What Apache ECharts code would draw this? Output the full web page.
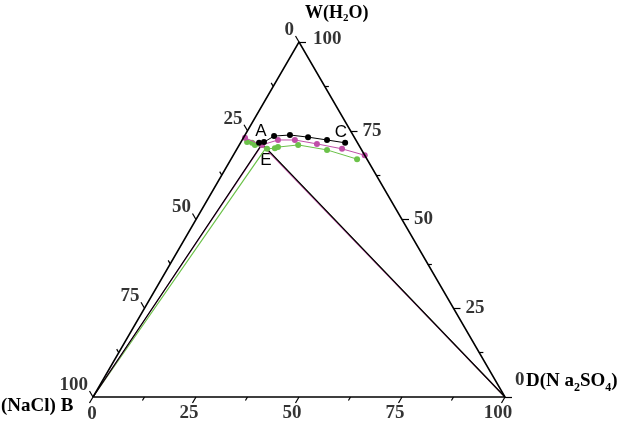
<!DOCTYPE html>
<html><head><meta charset="utf-8">
<script src="https://cdn.jsdelivr.net/npm/echarts@6/dist/echarts.min.js"></script>
<style>html,body{margin:0;padding:0;background:#fff}#c{width:622px;height:426px}</style>
</head><body><div id="c"></div>
<script>
// Compositions (mass %): H2O and Na2SO4; NaCl = remainder
const blackH2O     = [71.6, 71.8, 73.5, 73.8, 73.2, 72.4, 71.6];
const blackNa2SO4  = [4.5, 5.6, 7.2, 10.9, 15.6, 20.6, 25.4];
const pinkH2O      = [73.0, 71.0, 72.4, 72.4, 71.3, 69.9, 68.1];
const pinkNa2SO4   = [0.4, 5.5, 8.7, 12.8, 18.7, 25.5, 31.9];
const greenH2O     = [71.8, 71.6, 71.0, 69.9, 70.1, 70.4, 71.0, 69.6, 67.0];
const greenNa2SO4  = [1.5, 2.8, 3.8, 7.3, 9.1, 9.7, 14.3, 22.0, 30.6];
// invariant (tie) points for black, pink, green
const tieH2O       = [71.3, 71.0, 70.1];
const tieNa2SO4    = [5.4, 5.5, 6.9];
const tieColors    = ['#000000', '#c04fa8', '#6cc24a'];
// axis tick values
const majorTicks   = [0, 25, 50, 75, 100];
const minorTicks   = [12.5, 37.5, 62.5, 87.5];

const S = Math.sqrt(3) / 2;
function toXY(w, d) { return [d + w / 2, w * S]; }
function pts(W, D) { return W.map((w, i) => toXY(w, D[i])); }

// ternary tick segments
function tickSegs(vals, len) {
  const segs = [];
  vals.forEach(v => {
    let p = toXY(0, v);                       // bottom edge: Na2SO4 = v
    segs.push({coords: [p, [p[0] - 0.5 * len, p[1] - S * len]]});
    p = toXY(v, 100 - v);                     // right edge: H2O = v
    segs.push({coords: [p, [p[0] + len, p[1]]]});
    p = toXY(100 - v, 0);                     // left edge: NaCl = v
    segs.push({coords: [p, [p[0] - 0.5 * len, p[1] + S * len]]});
  });
  return segs;
}

const numFont = {fontFamily: 'Liberation Serif', fontWeight: 'bold', fontSize: 19, color: '#000'};

function labelSeries(data) {
  return {
    type: 'scatter', symbolSize: 0, silent: true, z: 10,
    data: data,
    label: Object.assign({show: true, position: 'inside', verticalAlign: 'middle'}, numFont)
  };
}
const bottomLbl = majorTicks.map(v => ({
  value: toXY(0, v),
  label: {formatter: String(v), align: 'center', offset: v === 0 ? [-1, 17] : [-7, 16]}
}));
const leftLbl = majorTicks.map(v => ({
  value: toXY(100 - v, 0),
  label: {formatter: String(v), align: 'right', offset: [-5, -12]}
}));
const rightLbl = majorTicks.map(v => ({
  value: toXY(v, 100 - v),
  label: {formatter: String(v), align: 'left', offset: v === 0 ? [10, -17] : (v === 100 ? [14, -3] : [12, 0])}
}));

const series = [];
series.push({type: 'line', data: [toXY(0, 0), toXY(0, 100), toXY(100, 0), toXY(0, 0)],
  symbol: 'none', lineStyle: {color: '#000', width: 1.5}, silent: true, z: 5, clip: false});
series.push({type: 'lines', coordinateSystem: 'cartesian2d', data: tickSegs(majorTicks, 1.7),
  lineStyle: {color: '#000', width: 1.2, opacity: 1}, silent: true, z: 5, clip: false});
series.push({type: 'lines', coordinateSystem: 'cartesian2d', data: tickSegs(minorTicks, 1.0),
  lineStyle: {color: '#000', width: 1.2, opacity: 1}, silent: true, z: 5, clip: false});
[2, 1, 0].forEach(i => {
  series.push({type: 'line', data: [toXY(0, 0), toXY(tieH2O[i], tieNa2SO4[i]), toXY(0, 100)],
    symbol: 'none', lineStyle: {color: tieColors[i], width: 1.2}, z: 2 + (2 - i) * 0.1, silent: true});
});
[[greenH2O, greenNa2SO4, tieColors[2]], [pinkH2O, pinkNa2SO4, tieColors[1]], [blackH2O, blackNa2SO4, tieColors[0]]]
  .forEach((c, k) => {
    series.push({type: 'line', data: pts(c[0], c[1]), symbol: 'circle', symbolSize: 6,
      itemStyle: {color: c[2]}, lineStyle: {color: c[2], width: 1}, z: 3 + k * 0.1, silent: true});
  });
series.push(labelSeries(bottomLbl), labelSeries(leftLbl), labelSeries(rightLbl));

const chart = echarts.init(document.getElementById('c'), null, {renderer: 'canvas'});
const serif = 'Liberation Serif';
chart.setOption({
  animation: false,
  backgroundColor: '#fff',
  grid: {left: 93, top: 42, width: 412, height: 355},
  xAxis: {type: 'value', min: 0, max: 100, show: false},
  yAxis: {type: 'value', min: 0, max: 100 * S, show: false},
  series: series,
  graphic: [
    {type: 'text', left: 305, top: 4, style: {
      text: '{a|W(H}{s|2}{a|O)}',
      rich: {a: {fontFamily: serif, fontWeight: 'bold', fontSize: 18, fill: '#000'},
             s: {fontFamily: serif, fontWeight: 'bold', fontSize: 11, fill: '#000', padding: [10, 0, 0, 0]}}}},
    {type: 'text', left: 1, top: 397, style: {text: '(NaCl) B', fontFamily: serif, fontWeight: 'bold', fontSize: 19, fill: '#000'}},
    {type: 'text', left: 526, top: 372, style: {
      text: '{a|D(N a}{s|2}{a|SO}{s|4}{a|)}',
      rich: {a: {fontFamily: serif, fontWeight: 'bold', fontSize: 19, fill: '#000'},
             s: {fontFamily: serif, fontWeight: 'bold', fontSize: 12, fill: '#000', padding: [12, 0, 0, 0]}}}},
    {type: 'text', x: 261, y: 131, style: {text: 'A', fontFamily: 'Liberation Sans', fontSize: 17, fill: '#000', align: 'center', verticalAlign: 'middle'}},
    {type: 'text', x: 341, y: 132, style: {text: 'C', fontFamily: 'Liberation Sans', fontSize: 17, fill: '#000', align: 'center', verticalAlign: 'middle'}},
    {type: 'text', x: 266, y: 160, style: {text: 'E', fontFamily: 'Liberation Sans', fontSize: 17, fill: '#000', align: 'center', verticalAlign: 'middle'}}
  ]
});
</script>
</body></html>
